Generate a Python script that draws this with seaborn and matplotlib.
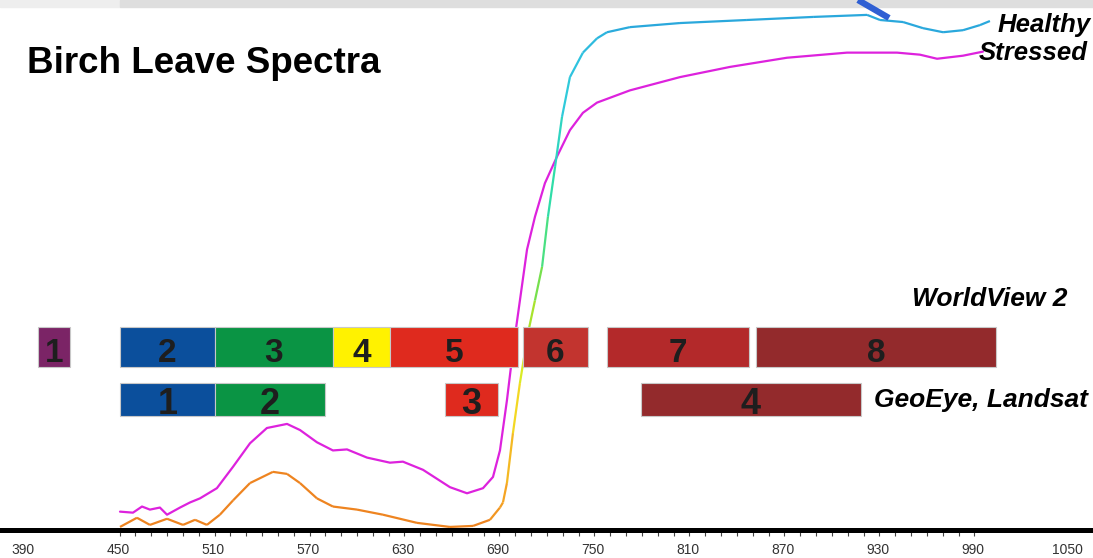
import numpy as np
import pandas as pd
import matplotlib
matplotlib.use("Agg")
import matplotlib.pyplot as plt
import seaborn as sns
from matplotlib.collections import LineCollection
from matplotlib.colors import LinearSegmentedColormap, Normalize
from matplotlib.lines import Line2D
from matplotlib.patches import Rectangle

# spectra (wavelength in nm, reflectance in %)
healthy_wl = [451.3, 462.0, 470.2, 481.0, 491.1, 498.7, 506.2, 514.4, 522.7, 533.4,
              547.9, 556.8, 565.0, 575.7, 585.8, 601.0, 617.4, 638.9, 659.7, 674.3,
              685.0, 691.3, 693.2, 695.7, 699.5, 703.9, 709.0, 713.4, 717.9, 721.6,
              726.1, 730.5, 735.5, 743.7, 752.6, 758.9, 773.4, 805.0, 847.3, 889.1,
              923.2, 931.4, 945.9, 958.5, 971.2, 983.8, 994.5, 1000.8]
healthy_refl = [0.3, 1.2, 0.5, 1.1, 0.5, 1.0, 0.5, 1.5, 2.9, 4.6,
                5.7, 5.5, 4.6, 3.1, 2.3, 2.0, 1.5, 0.7, 0.3, 0.4,
                1.0, 2.2, 2.7, 4.6, 9.5, 14.4, 19.3, 22.5, 25.8, 30.7,
                35.6, 40.5, 44.4, 46.8, 48.2, 48.8, 49.3, 49.7, 50.0, 50.3,
                50.5, 50.0, 49.8, 49.2, 48.8, 49.0, 49.5, 49.9]

stressed_wl = [451.3, 459.5, 465.2, 470.2, 476.5, 481.0, 489.2, 495.5, 501.8, 512.5,
               522.7, 533.4, 544.1, 556.8, 565.0, 575.7, 585.8, 594.7, 607.3, 621.8,
               630.0, 642.7, 659.7, 670.5, 680.6, 686.9, 691.3, 695.7, 699.5, 703.9,
               708.4, 713.4, 719.7, 727.3, 735.5, 743.7, 752.6, 773.4, 805.0, 836.6,
               872.6, 910.5, 942.1, 956.6, 967.4, 983.8, 996.4]
stressed_refl = [1.8, 1.7, 2.3, 2.0, 2.2, 1.5, 2.2, 2.7, 3.1, 4.1,
                 6.2, 8.5, 10.0, 10.4, 9.8, 8.6, 7.8, 7.9, 7.1, 6.6,
                 6.7, 5.9, 4.2, 3.6, 4.1, 5.2, 7.8, 12.7, 17.6, 22.5,
                 27.5, 30.7, 34.0, 36.6, 39.2, 40.9, 41.9, 43.1, 44.4, 45.4,
                 46.3, 46.8, 46.8, 46.6, 46.2, 46.5, 46.9]

# satellite bands (nm)
wv2_names = ["1", "2", "3", "4", "5", "6", "7", "8"]
wv2_start = [399.5, 451.3, 511.3, 585.8, 621.8, 705.9, 758.9, 853.0]
wv2_end = [419.7, 511.3, 585.8, 621.8, 702.7, 746.9, 848.6, 1004.6]
wv2_colors = ["#7B2466", "#0B4F9C", "#0A9444", "#FFF200",
              "#DF2A1E", "#C2342F", "#B3292A", "#932A2C"]

geo_names = ["1", "2", "3", "4"]
geo_start = [451.3, 511.3, 656.6, 780.4]
geo_end = [511.3, 580.8, 690.0, 919.4]
geo_colors = ["#0B4F9C", "#0A9444", "#DF2A1E", "#932A2C"]

tick_wl = [390, 450, 510, 570, 630, 690, 750, 810, 870, 930, 990, 1050]

sns.set_style("white")
plt.rcParams["font.family"] = ["Liberation Sans", "DejaVu Sans"]
plt.rcParams["text.color"] = "black"

W, H = 1093, 558
fig = plt.figure(figsize=(W / 100, H / 100), dpi=100)
ax = fig.add_axes([0, 28 / H, 1, 530 / H])

# stressed leaf
stressed_df = pd.DataFrame({"wl": stressed_wl, "refl": stressed_refl})
sns.lineplot(data=stressed_df, x="wl", y="refl", estimator=None,
             color="#DD22DD", linewidth=1.6, ax=ax, zorder=2)

# healthy leaf, colour runs orange -> yellow -> green -> cyan across the red edge
edge_cmap = LinearSegmentedColormap.from_list(
    "edge", [(0.0, "#EE8420"), (0.17, "#F5A623"), (0.27, "#F2EE22"),
             (0.37, "#8FE030"), (0.47, "#30E0A0"), (0.6, "#30C8E0"), (1.0, "#2AA8DC")])
pts = np.column_stack([healthy_wl, healthy_refl])
segs = np.stack([pts[:-1], pts[1:]], axis=1)
mid_wl = (np.array(healthy_wl[:-1]) + np.array(healthy_wl[1:])) / 2
lc = LineCollection(segs, cmap=edge_cmap, norm=Normalize(680, 770),
                    linewidth=1.6, zorder=2)
lc.set_array(mid_wl)
ax.add_collection(lc)

# band bars
wv2_bottom, wv2_h = 15.98, 3.92
geo_bottom, geo_h = 11.18, 3.24
for name, s, e, c in zip(wv2_names, wv2_start, wv2_end, wv2_colors):
    ax.barh(wv2_bottom + wv2_h / 2, e - s, left=s, height=wv2_h, color=c,
            edgecolor="#c8c8c8", linewidth=0.8, zorder=3)
    ax.text((s + e) / 2, 16.5, name, ha="center", va="baseline",
            fontsize=24, fontweight="bold", color="#1E1E1E", zorder=4)
for name, s, e, c in zip(geo_names, geo_start, geo_end, geo_colors):
    ax.barh(geo_bottom + geo_h / 2, e - s, left=s, height=geo_h, color=c,
            edgecolor="#c8c8c8", linewidth=0.8, zorder=3)
    ax.text((s + e) / 2, 11.4, name, ha="center", va="baseline",
            fontsize=26, fontweight="bold", color="#1E1E1E", zorder=4)

ax.set_xlim(375.5, 1065.9)
ax.set_ylim(0, 51.96)
ax.set_xlabel("")
ax.set_ylabel("")
ax.set_yticks([])
ax.set_xticks(tick_wl)
ax.set_xticks(np.arange(451, 992, 10), minor=True)
ax.tick_params(axis="x", which="major", length=0, pad=9, labelsize=10,
               labelcolor="#333333")
ax.tick_params(axis="x", which="minor", length=4, width=0.8, color="#444444",
               direction="out", bottom=True)
for side in ["left", "right", "top"]:
    ax.spines[side].set_visible(False)
ax.spines["bottom"].set_linewidth(3.6)
ax.spines["bottom"].set_color("black")
ax.patch.set_alpha(0)

# texts
fig.text(27 / W, 1 - 73 / H, "Birch Leave Spectra", fontsize=26.5,
         fontweight="bold", ha="left", va="baseline", color="black")
fig.text(1091 / W, 1 - 32 / H, "Healthy", fontsize=18.5, fontweight="bold",
         style="italic", ha="right", va="baseline", color="black")
fig.text(1088 / W, 1 - 60 / H, "Stressed", fontsize=18.5, fontweight="bold",
         style="italic", ha="right", va="baseline", color="black")
fig.text(1067 / W, 1 - 306 / H, "WorldView 2", fontsize=19, fontweight="bold",
         style="italic", ha="right", va="baseline", color="black")
fig.text(874 / W, 1 - 407 / H, "GeoEye, Landsat", fontsize=19, fontweight="bold",
         style="italic", ha="left", va="baseline", color="black")

# grey strip along the top and the blue pointer stroke
fig.add_artist(Rectangle((0, 1 - 7 / H), 120 / W, 7 / H, transform=fig.transFigure,
                         color="#EEEEEE", zorder=5))
fig.add_artist(Rectangle((120 / W, 1 - 7 / H), 1 - 120 / W, 7 / H,
                         transform=fig.transFigure, color="#DEDEDE", zorder=5))
fig.add_artist(Line2D([858 / W, 889 / W], [1, 1 - 18 / H], transform=fig.transFigure,
                      color="#2F5FD3", linewidth=4.5, solid_capstyle="butt", zorder=6))

fig.savefig("out.png", dpi=100)
